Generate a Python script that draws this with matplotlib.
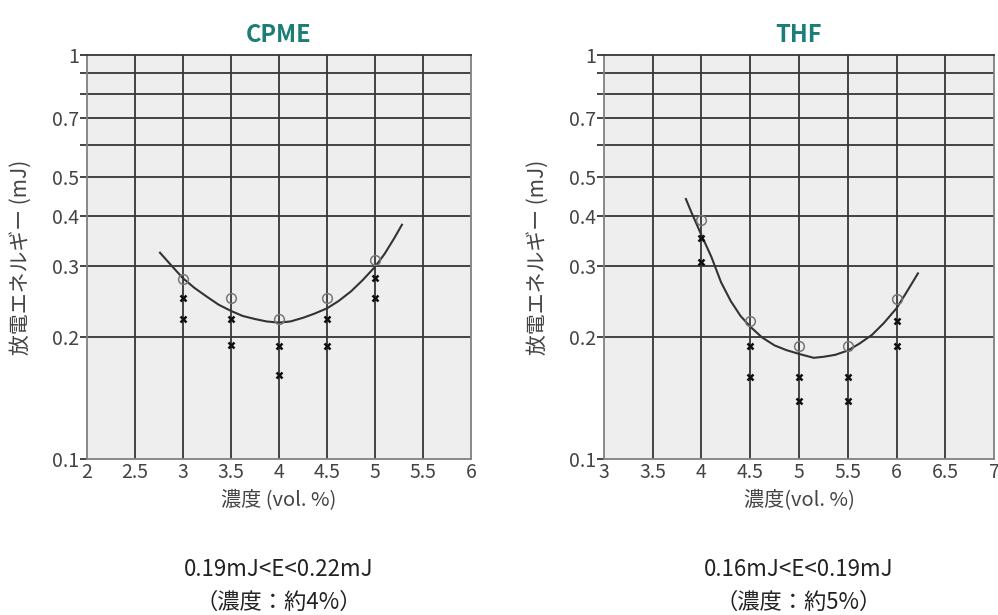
import numpy as np
import matplotlib.pyplot as plt
from matplotlib.ticker import FixedLocator, NullFormatter

plt.rcParams['font.family'] = ['Noto Sans CJK JP', 'DejaVu Sans']

# CPME
cpme_x_circ = [3.0, 3.5, 4.0, 4.5, 5.0]
cpme_y_circ = [0.279, 0.251, 0.222, 0.251, 0.311]
cpme_x_cross = [3.0, 3.0, 3.5, 3.5, 4.0, 4.0, 4.5, 4.5, 5.0, 5.0]
cpme_y_cross = [0.25, 0.222, 0.222, 0.191, 0.19, 0.161, 0.222, 0.19, 0.28, 0.25]
cpme_curve_x = [2.76, 2.88, 3.0, 3.12, 3.25, 3.37, 3.5, 3.62, 3.75, 3.87, 4.0,
                4.12, 4.25, 4.37, 4.5, 4.62, 4.75, 4.87, 5.0, 5.1, 5.2, 5.28]
cpme_curve_y = [0.324, 0.301, 0.28, 0.265, 0.252, 0.241, 0.2325, 0.226, 0.222, 0.219, 0.2175,
                0.219, 0.2236, 0.229, 0.236, 0.246, 0.26, 0.277, 0.299, 0.322, 0.352, 0.38]

# THF
thf_x_circ = [4.0, 4.5, 5.0, 5.5, 6.0]
thf_y_circ = [0.391, 0.22, 0.19, 0.19, 0.249]
thf_x_cross = [4.0, 4.0, 4.5, 4.5, 5.0, 5.0, 5.5, 5.5, 6.0, 6.0]
thf_y_cross = [0.352, 0.308, 0.19, 0.16, 0.16, 0.139, 0.16, 0.139, 0.22, 0.19]
thf_curve_x = [3.84, 3.9, 4.0, 4.1, 4.2, 4.3, 4.4, 4.5, 4.62, 4.75, 4.87, 5.0, 5.15, 5.25,
               5.37, 5.5, 5.62, 5.75, 5.87, 6.0, 6.1, 6.22]
thf_curve_y = [0.44, 0.406, 0.358, 0.317, 0.274, 0.246, 0.226, 0.2126, 0.2, 0.191, 0.186, 0.182,
               0.178, 0.179, 0.181, 0.1855, 0.193, 0.203, 0.217, 0.236, 0.258, 0.288]

y_major = [0.1, 0.2, 0.3, 0.4, 0.5, 0.7, 1.0]
y_major_labels = ['0.1', '0.2', '0.3', '0.4', '0.5', '0.7', '1']
y_minor = [0.6, 0.8, 0.9]

panels = [
    dict(title='CPME', xlim=(2, 6), xc=cpme_x_circ, yc=cpme_y_circ,
         xx=cpme_x_cross, yx=cpme_y_cross, cx=cpme_curve_x, cy=cpme_curve_y,
         xlabel='濃度 (vol. %)', note1='0.19mJ<E<0.22mJ', note2='（濃度：約4%）',
         rect=[0.0872, 0.2537, 0.3848, 0.6569]),
    dict(title='THF', xlim=(3, 7), xc=thf_x_circ, yc=thf_y_circ,
         xx=thf_x_cross, yx=thf_y_cross, cx=thf_curve_x, cy=thf_curve_y,
         xlabel='濃度(vol. %)', note1='0.16mJ<E<0.19mJ', note2='（濃度：約5%）',
         rect=[0.6052, 0.2537, 0.3908, 0.6569]),
]

fig = plt.figure(figsize=(9.98, 6.15), dpi=100)
grid_c = '#363636'
txt_c = '#444444'

for p in panels:
    ax = fig.add_axes(p['rect'])
    ax.set_facecolor('#eeeeee')
    ax.set_yscale('log')
    ax.set_xlim(*p['xlim'])
    ax.set_ylim(0.1, 1.0)
    xt = np.arange(p['xlim'][0], p['xlim'][1] + 0.01, 0.5)
    ax.set_xticks(xt)
    ax.set_xticklabels([('%g' % v) for v in xt])
    ax.yaxis.set_major_locator(FixedLocator(y_major))
    ax.set_yticklabels(y_major_labels)
    ax.yaxis.set_minor_locator(FixedLocator(y_minor))
    ax.yaxis.set_minor_formatter(NullFormatter())

    for v in xt[1:-1]:
        ax.axvline(v, color=grid_c, lw=1.3, zorder=1)
    for v in [0.2, 0.3, 0.4, 0.5, 0.6, 0.7, 0.8, 0.9]:
        ax.axhline(v, color=grid_c, lw=1.3, zorder=1)

    ax.tick_params(axis='x', length=0, pad=2, labelsize=14, labelcolor=txt_c)
    ax.tick_params(axis='y', which='both', direction='out', length=5, width=1.3,
                   color=grid_c, pad=1, labelsize=14, labelcolor=txt_c)
    for s in ['left', 'bottom', 'right']:
        ax.spines[s].set_color('#808080')
        ax.spines[s].set_linewidth(1.3)
    ax.spines['top'].set_color(grid_c)
    ax.spines['top'].set_linewidth(1.3)

    ax.plot(p['cx'], p['cy'], color='#333333', lw=1.5, zorder=3)
    ax.plot(p['xc'], p['yc'], 'o', ms=7, mfc='none', mec='#777777', mew=1.1, zorder=4)
    ax.plot(p['xx'], p['yx'], 'x', ms=4.5, color='#111111', mew=1.8, zorder=4)

    ax.set_title(p['title'], color='#1a7d76', fontsize=17, fontweight='bold', pad=9)
    ax.set_xlabel(p['xlabel'], fontsize=14.5, color=txt_c, labelpad=5)
    ax.set_ylabel('放電エネルギー (mJ)', fontsize=15, color=txt_c, labelpad=14)

    cxf = p['rect'][0] + p['rect'][2] / 2
    fig.text(cxf, 1 - 570 / 615, p['note1'], ha='center', va='center', fontsize=16, color='#222222')
    fig.text(cxf, 1 - 602 / 615, p['note2'], ha='center', va='center', fontsize=16, color='#222222')

fig.savefig('out.png', dpi=100)
